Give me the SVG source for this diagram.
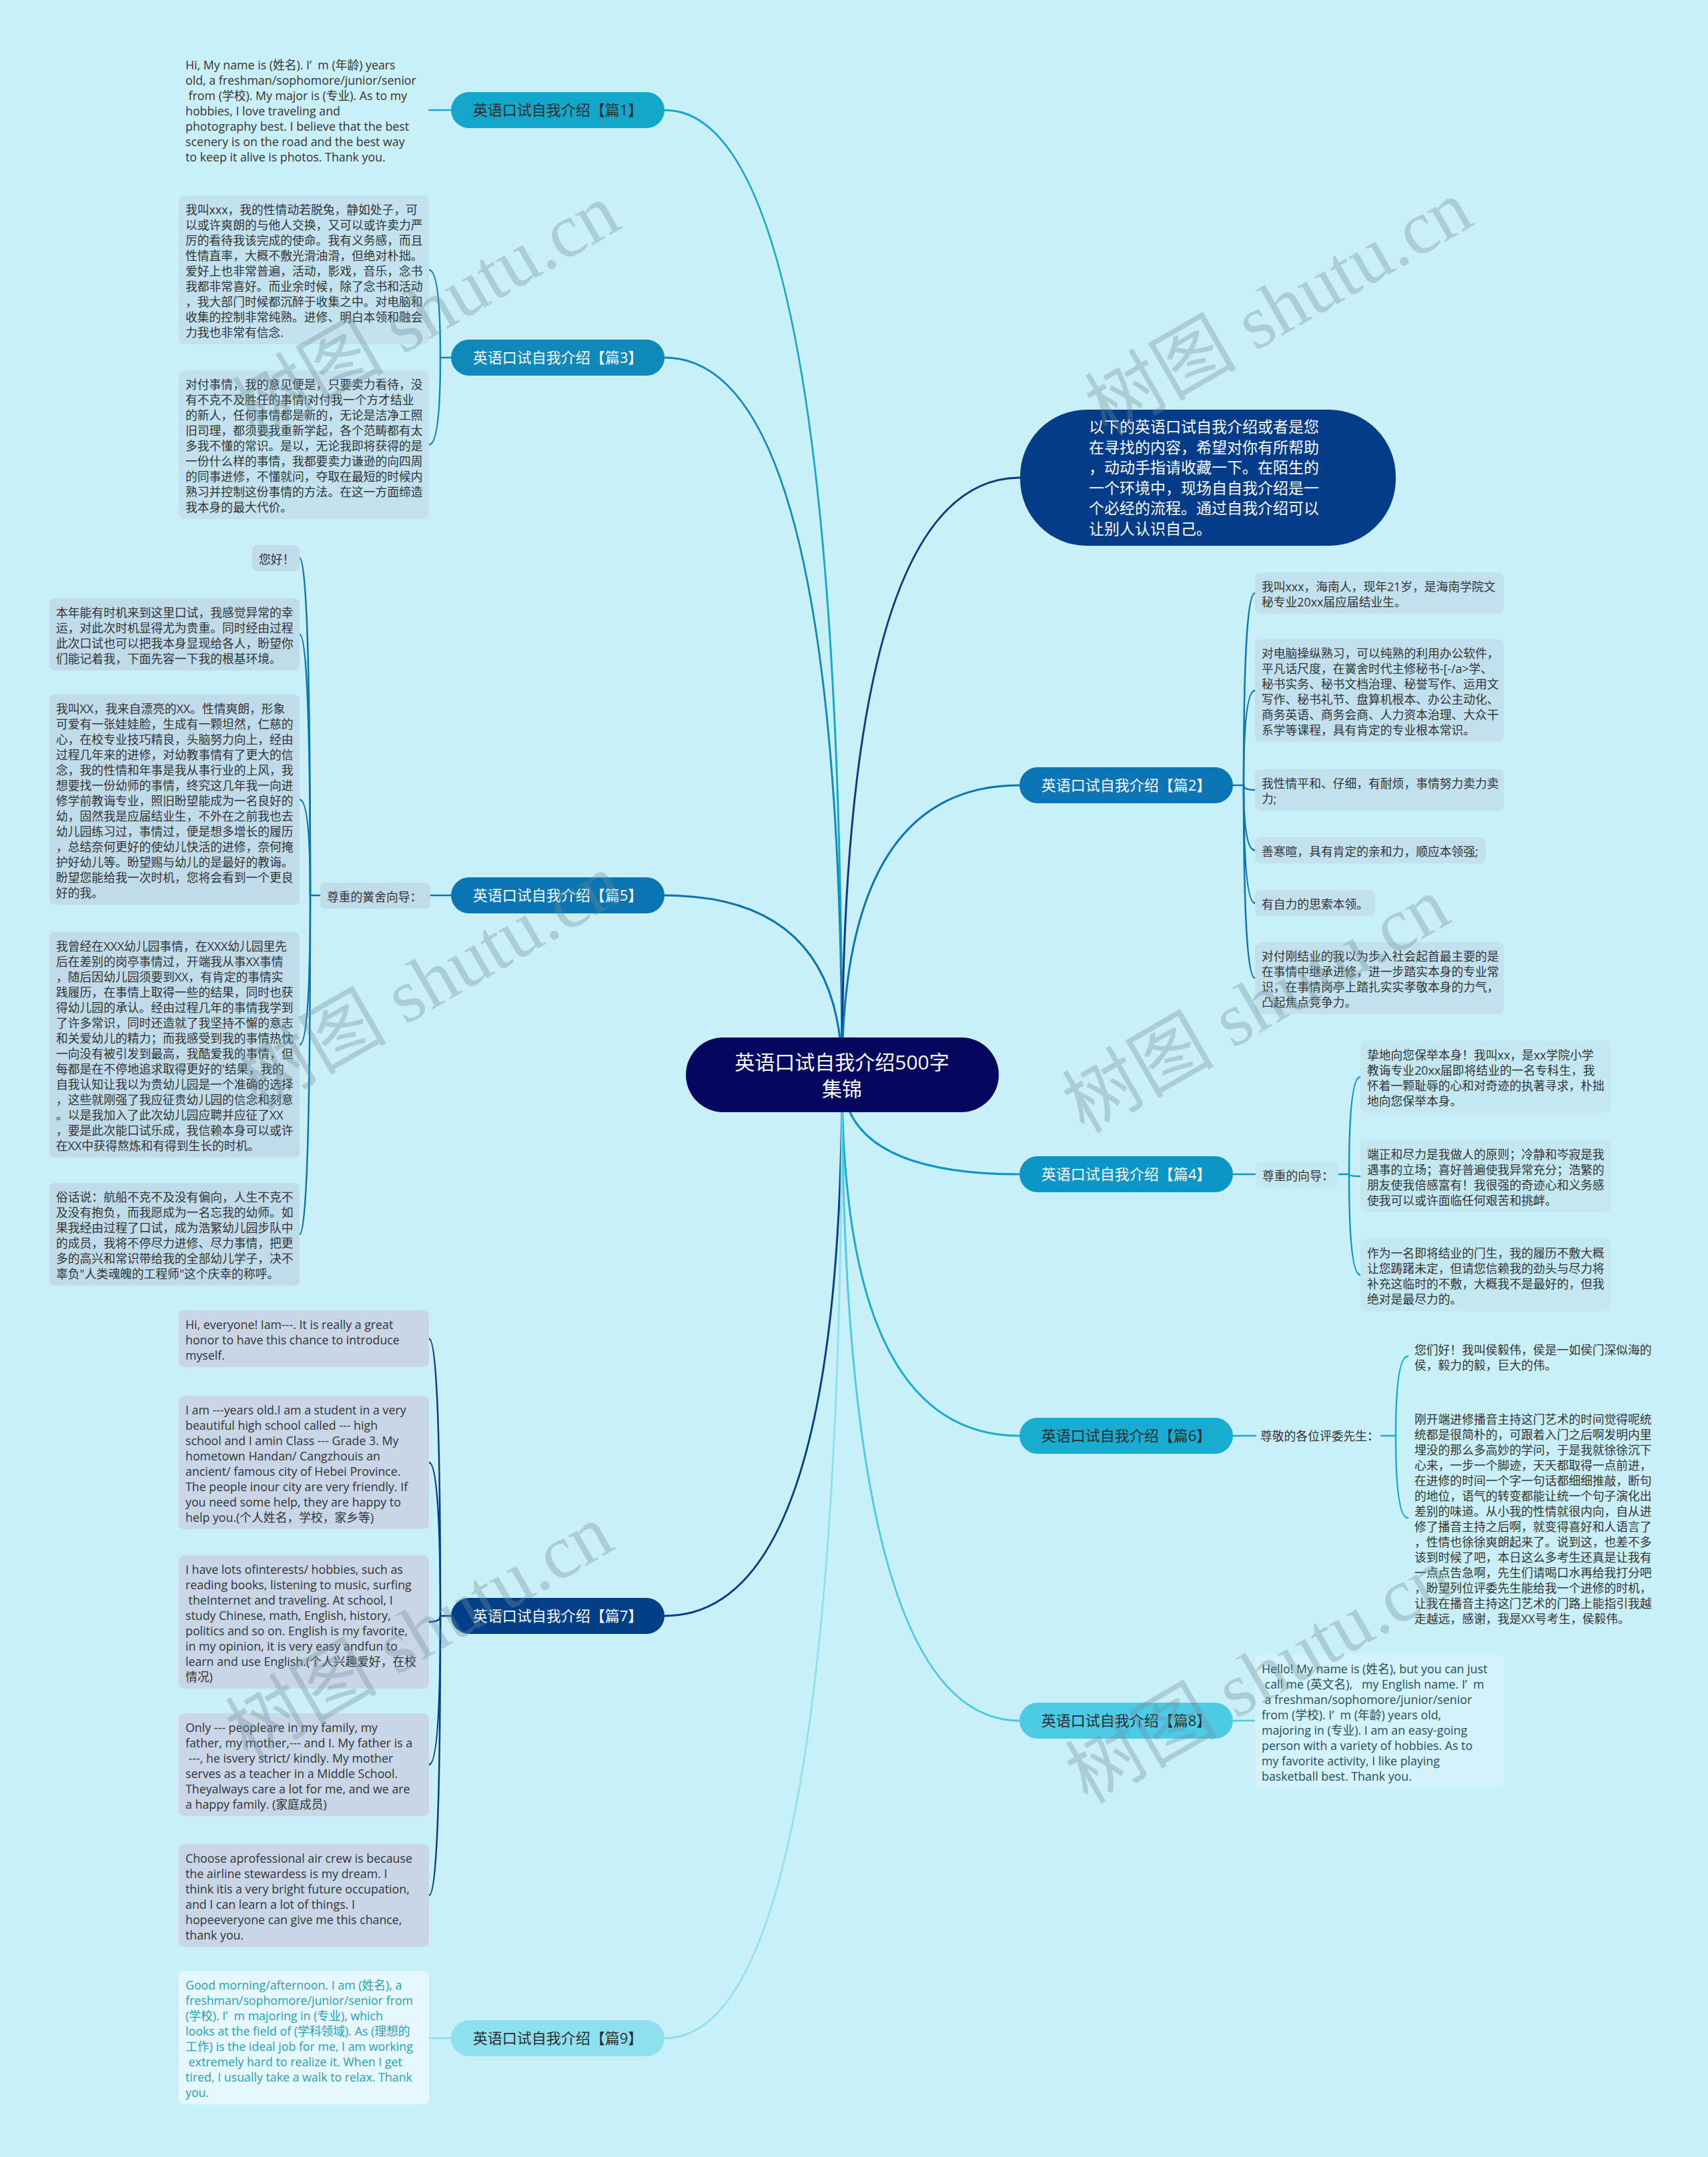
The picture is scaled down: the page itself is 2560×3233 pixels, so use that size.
<svg xmlns="http://www.w3.org/2000/svg" width="2560" height="3233" viewBox="0 0 2560 3233">
<style>
.t{font-family:'Open Sans','Noto Sans CJK SC',sans-serif;font-size:17.8px;fill:#333}
.nt{font-family:'Open Sans','Noto Sans CJK SC',sans-serif;font-size:22px;text-anchor:middle}
.w{fill:#fff}
.d{fill:#2b2b2b}
.e{fill:none;stroke-width:3;stroke-linecap:round}
.s{fill:none;stroke-width:2.5;stroke-linecap:round}
.wm{font-family:'Liberation Serif','Noto Sans CJK SC',serif;font-size:114px;fill:#6f8f99;fill-opacity:.35}
</style>
<rect x="0" y="0" width="2560" height="3233" fill="#c9eff8"/>

<g id="connectors">
<path class="e" stroke="#13a8cb" d="M1262,1611 Q1262,165 996,165"/>
<path class="e" stroke="#0f88ba" d="M1262,1611 Q1262,536 996,536"/>
<path class="e" stroke="#0b74b2" d="M1262,1611 Q1262,1342 996,1342"/>
<path class="e" stroke="#023f88" d="M1262,1611 Q1262,2422 996,2422"/>
<path class="e" stroke="#8fe0ef" d="M1262,1611 Q1262,3055 996,3055"/>
<path class="e" stroke="#083c82" d="M1262,1611 Q1262,716 1529,716"/>
<path class="e" stroke="#0b75b5" d="M1262,1611 Q1262,1177 1528,1177"/>
<path class="e" stroke="#0a96c6" d="M1262,1611 Q1262,1760 1528,1760"/>
<path class="e" stroke="#18acd0" d="M1262,1611 Q1262,2152 1528,2152"/>
<path class="e" stroke="#4dcae6" d="M1262,1611 Q1262,2579 1528,2579"/>

<path class="s" stroke="#13a8cb" d="M676,165 H643"/>
<g stroke="#0f88ba">
<path class="s" d="M676,536 H660"/>
<path class="s" d="M660,536 Q660,404.5 643,404.5"/>
<path class="s" d="M660,536 Q660,666.5 643,666.5"/>
</g>
<g stroke="#0b74b2">
<path class="s" d="M676,1342 H645"/>
<path class="s" d="M480,1342 H465"/>
<path class="s" d="M465,1342 Q465,836.5 449,836.5"/>
<path class="s" d="M465,1342 Q465,951 449,951"/>
<path class="s" d="M465,1342 Q465,1198.5 449,1198.5"/>
<path class="s" d="M465,1342 Q465,1566 449,1566"/>
<path class="s" d="M465,1342 Q465,1850 449,1850"/>
</g>
<g stroke="#023f88">
<path class="s" d="M676,2422 H660"/>
<path class="s" d="M660,2422 Q660,2006.5 643,2006.5"/>
<path class="s" d="M660,2422 Q660,2192 643,2192"/>
<path class="s" d="M660,2422 Q660,2431 643,2431"/>
<path class="s" d="M660,2422 Q660,2645 643,2645"/>
<path class="s" d="M660,2422 Q660,2841 643,2841"/>
</g>
<path class="s" stroke="#8fe0ef" d="M676,3055 H643"/>
<g stroke="#0b75b5">
<path class="s" d="M1848,1177 H1864"/>
<path class="s" d="M1864,1177 Q1864,889 1881,889"/>
<path class="s" d="M1864,1177 Q1864,1035 1881,1035"/>
<path class="s" d="M1864,1177 Q1864,1184 1881,1184"/>
<path class="s" d="M1864,1177 Q1864,1274.5 1881,1274.5"/>
<path class="s" d="M1864,1177 Q1864,1353.5 1881,1353.5"/>
<path class="s" d="M1864,1177 Q1864,1466 1881,1466"/>
</g>
<g stroke="#0a96c6">
<path class="s" d="M1848,1760 H1882"/>
<path class="s" d="M2006,1760 H2022"/>
<path class="s" d="M2022,1760 Q2022,1614 2039,1614"/>
<path class="s" d="M2022,1760 Q2022,1763 2039,1763"/>
<path class="s" d="M2022,1760 Q2022,1911 2039,1911"/>
</g>
<g stroke="#18acd0">
<path class="s" d="M1848,2152 H1882"/>
<path class="s" d="M2070,2152 H2092"/>
<path class="s" d="M2092,2152 Q2092,2033 2110,2033"/>
<path class="s" d="M2092,2152 Q2092,2275 2110,2275"/>
</g>
<path class="s" stroke="#4dcae6" d="M1848,2579 H1881"/>
</g>

<g id="center">
<rect x="1028" y="1555" width="469" height="112" rx="56" fill="#05065e"/>
<text class="nt w" style="font-size:30px" x="1262" y="1603">英语口试自我介绍500字</text>
<text class="nt w" style="font-size:30px" x="1262" y="1643">集锦</text>
</g>

<g id="intro">
<rect x="1529" y="614" width="563" height="204" rx="100" fill="#033c88"/>
<text class="w" style="font-family:'Open Sans','Noto Sans CJK SC',sans-serif;font-size:23px">
<tspan x="1632" y="648">以下的英语口试自我介绍或者是您</tspan>
<tspan x="1632" y="679">在寻找的内容，希望对你有所帮助</tspan>
<tspan x="1632" y="709">，动动手指请收藏一下。在陌生的</tspan>
<tspan x="1632" y="740">一个环境中，现场自自我介绍是一</tspan>
<tspan x="1632" y="770">个必经的流程。通过自我介绍可以</tspan>
<tspan x="1632" y="801">让别人认识自己。</tspan>
</text>
</g>

<g id="n1">
<rect x="676" y="138" width="320" height="54" rx="27" fill="#13a8cb"/>
<text class="nt d" x="836" y="173">英语口试自我介绍【篇1】</text>
</g>
<g id="n1-c1">
<text class="t">
<tspan x="278" y="104">Hi, My name is (姓名). I’&#160;&#160;m (年龄) years</tspan>
<tspan x="278" y="127">old, a freshman/sophomore/junior/senior</tspan>
<tspan x="278" y="150">&#160;from (学校). My major is (专业). As to my</tspan>
<tspan x="278" y="173">hobbies, I love traveling and</tspan>
<tspan x="278" y="196">photography best. I believe that the best</tspan>
<tspan x="278" y="219">scenery is on the road and the best way</tspan>
<tspan x="278" y="242">to keep it alive is photos. Thank you.</tspan>
</text>
</g>

<g id="n3">
<rect x="676" y="509" width="320" height="54" rx="27" fill="#0f88ba"/>
<text class="nt w" x="836" y="544">英语口试自我介绍【篇3】</text>
</g>
<g id="n3-c1">
<rect x="268" y="293" width="375" height="223" rx="8" fill="#c1e2ee"/>
<text class="t">
<tspan x="278" y="321">我叫xxx，我的性情动若脱兔，静如处子，可</tspan>
<tspan x="278" y="344">以或许爽朗的与他人交换，又可以或许卖力严</tspan>
<tspan x="278" y="367">厉的看待我该完成的使命。我有义务感，而且</tspan>
<tspan x="278" y="390">性情直率，大概不敷光滑油滑，但绝对朴拙。</tspan>
<tspan x="278" y="413">爱好上也非常普遍，活动，影戏，音乐，念书</tspan>
<tspan x="278" y="436">我都非常喜好。而业余时候，除了念书和活动</tspan>
<tspan x="278" y="459">，我大部门时候都沉醉于收集之中。对电脑和</tspan>
<tspan x="278" y="482">收集的控制非常纯熟。进修、明白本领和融会</tspan>
<tspan x="278" y="505">力我也非常有信念.</tspan>
</text>
</g>
<g id="n3-c2">
<rect x="268" y="555" width="375" height="223" rx="8" fill="#c1e2ee"/>
<text class="t">
<tspan x="278" y="583">对付事情，我的意见便是，只要卖力看待，没</tspan>
<tspan x="278" y="606">有不克不及胜任的事情!对付我一个方才结业</tspan>
<tspan x="278" y="629">的新人，任何事情都是新的，无论是洁净工照</tspan>
<tspan x="278" y="652">旧司理，都须要我重新学起，各个范畴都有太</tspan>
<tspan x="278" y="675">多我不懂的常识。是以，无论我即将获得的是</tspan>
<tspan x="278" y="698">一份什么样的事情，我都要卖力谦逊的向四周</tspan>
<tspan x="278" y="721">的同事进修，不懂就问，夺取在最短的时候内</tspan>
<tspan x="278" y="744">熟习并控制这份事情的方法。在这一方面缔造</tspan>
<tspan x="278" y="767">我本身的最大代价。</tspan>
</text>
</g>

<g id="n5">
<rect x="676" y="1315" width="320" height="54" rx="27" fill="#0b74b2"/>
<text class="nt w" x="836" y="1350">英语口试自我介绍【篇5】</text>
</g>
<g id="n5-s">
<rect x="480" y="1323" width="165" height="39" rx="8" fill="#c0dbe9"/>
<text class="t" x="490" y="1351">尊重的黉舍向导：</text>
</g>
<g id="n5-c1">
<rect x="378" y="817" width="71" height="39" rx="8" fill="#c0dbe9"/>
<text class="t" x="388" y="845">您好！</text>
</g>
<g id="n5-c2">
<rect x="74" y="897" width="375" height="108" rx="8" fill="#c0dbe9"/>
<text class="t">
<tspan x="84" y="925">本年能有时机来到这里口试，我感觉异常的幸</tspan>
<tspan x="84" y="948">运，对此次时机显得尤为贵重。同时经由过程</tspan>
<tspan x="84" y="971">此次口试也可以把我本身显现给各人，盼望你</tspan>
<tspan x="84" y="994">们能记着我，下面先容一下我的根基环境。</tspan>
</text>
</g>
<g id="n5-c3">
<rect x="74" y="1041" width="375" height="315" rx="8" fill="#c0dbe9"/>
<text class="t">
<tspan x="84" y="1069">我叫XX，我来自漂亮的XX。性情爽朗，形象</tspan>
<tspan x="84" y="1092">可爱有一张娃娃脸，生成有一颗坦然，仁慈的</tspan>
<tspan x="84" y="1115">心，在校专业技巧精良，头脑努力向上，经由</tspan>
<tspan x="84" y="1138">过程几年来的进修，对幼教事情有了更大的信</tspan>
<tspan x="84" y="1161">念，我的性情和年事是我从事行业的上风，我</tspan>
<tspan x="84" y="1184">想要找一份幼师的事情，终究这几年我一向进</tspan>
<tspan x="84" y="1207">修学前教诲专业，照旧盼望能成为一名良好的</tspan>
<tspan x="84" y="1230">幼，固然我是应届结业生，不外在之前我也去</tspan>
<tspan x="84" y="1253">幼儿园练习过，事情过，便是想多增长的履历</tspan>
<tspan x="84" y="1276">，总结奈何更好的使幼儿快活的进修，奈何掩</tspan>
<tspan x="84" y="1299">护好幼儿等。盼望赐与幼儿的是最好的教诲。</tspan>
<tspan x="84" y="1322">盼望您能给我一次时机，您将会看到一个更良</tspan>
<tspan x="84" y="1345">好的我。</tspan>
</text>
</g>
<g id="n5-c4">
<rect x="74" y="1397" width="375" height="338" rx="8" fill="#c0dbe9"/>
<text class="t">
<tspan x="84" y="1425">我曾经在XXX幼儿园事情，在XXX幼儿园里先</tspan>
<tspan x="84" y="1448">后在差别的岗亭事情过，开端我从事XX事情</tspan>
<tspan x="84" y="1471">，随后因幼儿园须要到XX，有肯定的事情实</tspan>
<tspan x="84" y="1494">践履历，在事情上取得一些的结果，同时也获</tspan>
<tspan x="84" y="1517">得幼儿园的承认。经由过程几年的事情我学到</tspan>
<tspan x="84" y="1540">了许多常识，同时还造就了我坚持不懈的意志</tspan>
<tspan x="84" y="1563">和关爱幼儿的精力；而我感受到我的事情热忱</tspan>
<tspan x="84" y="1586">一向没有被引发到最高，我酷爱我的事情，但</tspan>
<tspan x="84" y="1609">每都是在不停地追求取得更好的'结果，我的</tspan>
<tspan x="84" y="1632">自我认知让我以为贵幼儿园是一个准确的选择</tspan>
<tspan x="84" y="1655">，这些就刚强了我应征贵幼儿园的信念和刻意</tspan>
<tspan x="84" y="1678">。以是我加入了此次幼儿园应聘并应征了XX</tspan>
<tspan x="84" y="1701">，要是此次能口试乐成，我信赖本身可以或许</tspan>
<tspan x="84" y="1724">在XX中获得熬炼和有得到生长的时机。</tspan>
</text>
</g>
<g id="n5-c5">
<rect x="74" y="1773" width="375" height="154" rx="8" fill="#c0dbe9"/>
<text class="t">
<tspan x="84" y="1801">俗话说：航船不克不及没有偏向，人生不克不</tspan>
<tspan x="84" y="1824">及没有抱负，而我愿成为一名忘我的幼师。如</tspan>
<tspan x="84" y="1847">果我经由过程了口试，成为浩繁幼儿园步队中</tspan>
<tspan x="84" y="1870">的成员，我将不停尽力进修、尽力事情，把更</tspan>
<tspan x="84" y="1893">多的高兴和常识带给我的全部幼儿学子，决不</tspan>
<tspan x="84" y="1916">辜负"人类魂魄的工程师"这个庆幸的称呼。</tspan>
</text>
</g>

<g id="n7">
<rect x="676" y="2395" width="320" height="54" rx="27" fill="#023f88"/>
<text class="nt w" x="836" y="2430">英语口试自我介绍【篇7】</text>
</g>
<g id="n7-c1">
<rect x="268" y="1964" width="375" height="85" rx="8" fill="#c8d6e7"/>
<text class="t">
<tspan x="278" y="1992">Hi, everyone! Iam---. It is really a great</tspan>
<tspan x="278" y="2015">honor to have this chance to introduce</tspan>
<tspan x="278" y="2038">myself.</tspan>
</text>
</g>
<g id="n7-c2">
<rect x="268" y="2092" width="375" height="200" rx="8" fill="#c8d6e7"/>
<text class="t">
<tspan x="278" y="2120">I am ---years old.I am a student in a very</tspan>
<tspan x="278" y="2143">beautiful high school called --- high</tspan>
<tspan x="278" y="2166">school and I amin Class --- Grade 3. My</tspan>
<tspan x="278" y="2189">hometown Handan/ Cangzhouis an</tspan>
<tspan x="278" y="2212">ancient/ famous city of Hebei Province.</tspan>
<tspan x="278" y="2235">The people inour city are very friendly. If</tspan>
<tspan x="278" y="2258">you need some help, they are happy to</tspan>
<tspan x="278" y="2281">help you.(个人姓名，学校，家乡等)</tspan>
</text>
</g>
<g id="n7-c3">
<rect x="268" y="2331" width="375" height="200" rx="8" fill="#c8d6e7"/>
<text class="t">
<tspan x="278" y="2359">I have lots ofinterests/ hobbies, such as</tspan>
<tspan x="278" y="2382">reading books, listening to music, surfing</tspan>
<tspan x="278" y="2405">&#160;theInternet and traveling. At school, I</tspan>
<tspan x="278" y="2428">study Chinese, math, English, history,</tspan>
<tspan x="278" y="2451">politics and so on. English is my favorite,</tspan>
<tspan x="278" y="2474">in my opinion, it is very easy andfun to</tspan>
<tspan x="278" y="2497">learn and use English.(个人兴趣爱好，在校</tspan>
<tspan x="278" y="2520">情况)</tspan>
</text>
</g>
<g id="n7-c4">
<rect x="268" y="2568" width="375" height="154" rx="8" fill="#c8d6e7"/>
<text class="t">
<tspan x="278" y="2596">Only --- peopleare in my family, my</tspan>
<tspan x="278" y="2619">father, my mother,--- and I. My father is a</tspan>
<tspan x="278" y="2642">&#160;---, he isvery strict/ kindly. My mother</tspan>
<tspan x="278" y="2665">serves as a teacher in a Middle School.</tspan>
<tspan x="278" y="2688">Theyalways care a lot for me, and we are</tspan>
<tspan x="278" y="2711">a happy family. (家庭成员)</tspan>
</text>
</g>
<g id="n7-c5">
<rect x="268" y="2764" width="375" height="154" rx="8" fill="#c8d6e7"/>
<text class="t">
<tspan x="278" y="2792">Choose aprofessional air crew is because</tspan>
<tspan x="278" y="2815">the airline stewardess is my dream. I</tspan>
<tspan x="278" y="2838">think itis a very bright future occupation,</tspan>
<tspan x="278" y="2861">and I can learn a lot of things. I</tspan>
<tspan x="278" y="2884">hopeeveryone can give me this chance,</tspan>
<tspan x="278" y="2907">thank you.</tspan>
</text>
</g>

<g id="n9">
<rect x="676" y="3028" width="320" height="54" rx="27" fill="#8fe0ef"/>
<text class="nt d" x="836" y="3063">英语口试自我介绍【篇9】</text>
</g>
<g id="n9-c1">
<rect x="268" y="2954" width="375" height="200" rx="8" fill="#e6f8fc"/>
<text class="t" style="fill:#27a1b6">
<tspan x="278" y="2982">Good morning/afternoon. I am (姓名), a</tspan>
<tspan x="278" y="3005">freshman/sophomore/junior/senior from</tspan>
<tspan x="278" y="3028">(学校). I’&#160;&#160;m majoring in (专业), which</tspan>
<tspan x="278" y="3051">looks at the field of (学科领域). As (理想的</tspan>
<tspan x="278" y="3074">工作) is the ideal job for me, I am working</tspan>
<tspan x="278" y="3097">&#160;extremely hard to realize it. When I get</tspan>
<tspan x="278" y="3120">tired, I usually take a walk to relax. Thank</tspan>
<tspan x="278" y="3143">you.</tspan>
</text>
</g>

<g id="n2">
<rect x="1528" y="1150" width="320" height="54" rx="27" fill="#0b75b5"/>
<text class="nt w" x="1688" y="1185">英语口试自我介绍【篇2】</text>
</g>
<g id="n2-c1">
<rect x="1881" y="858" width="373" height="62" rx="8" fill="#c1e1ee"/>
<text class="t">
<tspan x="1891" y="886">我叫xxx，海南人，现年21岁，是海南学院文</tspan>
<tspan x="1891" y="909">秘专业20xx届应届结业生。</tspan>
</text>
</g>
<g id="n2-c2">
<rect x="1881" y="958" width="373" height="154" rx="8" fill="#c1e1ee"/>
<text class="t">
<tspan x="1891" y="986">对电脑操纵熟习，可以纯熟的利用办公软件，</tspan>
<tspan x="1891" y="1009">平凡话尺度，在黉舍时代主修秘书-[-/a&gt;学、</tspan>
<tspan x="1891" y="1032">秘书实务、秘书文档治理、秘誉写作、运用文</tspan>
<tspan x="1891" y="1055">写作、秘书礼节、盘算机根本、办公主动化、</tspan>
<tspan x="1891" y="1078">商务英语、商务会商、人力资本治理、大众干</tspan>
<tspan x="1891" y="1101">系学等课程，具有肯定的专业根本常识。</tspan>
</text>
</g>
<g id="n2-c3">
<rect x="1881" y="1153" width="373" height="62" rx="8" fill="#c1e1ee"/>
<text class="t">
<tspan x="1891" y="1181">我性情平和、仔细，有耐烦，事情努力卖力卖</tspan>
<tspan x="1891" y="1204">力;</tspan>
</text>
</g>
<g id="n2-c4">
<rect x="1881" y="1255" width="346" height="39" rx="8" fill="#c1e1ee"/>
<text class="t" x="1891" y="1283">善寒暄，具有肯定的亲和力，顺应本领强;</text>
</g>
<g id="n2-c5">
<rect x="1881" y="1334" width="180" height="39" rx="8" fill="#c1e1ee"/>
<text class="t" x="1891" y="1362">有自力的思索本领。</text>
</g>
<g id="n2-c6">
<rect x="1881" y="1412" width="373" height="108" rx="8" fill="#c1e1ee"/>
<text class="t">
<tspan x="1891" y="1440">对付刚结业的我以为步入社会起首最主要的是</tspan>
<tspan x="1891" y="1463">在事情中继承进修，进一步踏实本身的专业常</tspan>
<tspan x="1891" y="1486">识，在事情岗亭上踏扎实实孝敬本身的力气，</tspan>
<tspan x="1891" y="1509">凸起焦点竞争力。</tspan>
</text>
</g>

<g id="n4">
<rect x="1528" y="1733" width="320" height="54" rx="27" fill="#0a96c6"/>
<text class="nt w" x="1688" y="1768">英语口试自我介绍【篇4】</text>
</g>
<g id="n4-s">
<rect x="1882" y="1741" width="124" height="39" rx="8" fill="#c4e8f2"/>
<text class="t" x="1892" y="1769">尊重的向导：</text>
</g>
<g id="n4-c1">
<rect x="2039" y="1560" width="376" height="108" rx="8" fill="#c4e8f2"/>
<text class="t">
<tspan x="2049" y="1588">挚地向您保举本身！我叫xx，是xx学院小学</tspan>
<tspan x="2049" y="1611">教诲专业20xx届即将结业的一名专科生，我</tspan>
<tspan x="2049" y="1634">怀着一颗耻辱的心和对奇迹的执著寻求，朴拙</tspan>
<tspan x="2049" y="1657">地向您保举本身。</tspan>
</text>
</g>
<g id="n4-c2">
<rect x="2039" y="1709" width="376" height="108" rx="8" fill="#c4e8f2"/>
<text class="t">
<tspan x="2049" y="1737">端正和尽力是我做人的原则；冷静和岑寂是我</tspan>
<tspan x="2049" y="1760">遇事的立场；喜好普遍使我异常充分；浩繁的</tspan>
<tspan x="2049" y="1783">朋友使我倍感富有！我很强的奇迹心和义务感</tspan>
<tspan x="2049" y="1806">使我可以或许面临任何艰苦和挑衅。</tspan>
</text>
</g>
<g id="n4-c3">
<rect x="2039" y="1857" width="376" height="108" rx="8" fill="#c4e8f2"/>
<text class="t">
<tspan x="2049" y="1885">作为一名即将结业的门生，我的履历不敷大概</tspan>
<tspan x="2049" y="1908">让您踌躇未定，但请您信赖我的劲头与尽力将</tspan>
<tspan x="2049" y="1931">补充这临时的不敷，大概我不是最好的，但我</tspan>
<tspan x="2049" y="1954">绝对是最尽力的。</tspan>
</text>
</g>

<g id="n6">
<rect x="1528" y="2125" width="320" height="54" rx="27" fill="#18acd0"/>
<text class="nt d" x="1688" y="2160">英语口试自我介绍【篇6】</text>
</g>
<g id="n6-s">
<text class="t" x="1889" y="2159">尊敬的各位评委先生：</text>
</g>
<g id="n6-c1">
<text class="t">
<tspan x="2120" y="2030">您们好！我叫侯毅伟，侯是一如侯门深似海的</tspan>
<tspan x="2120" y="2053">侯，毅力的毅，巨大的伟。</tspan>
</text>
</g>
<g id="n6-c2">
<text class="t">
<tspan x="2120" y="2134">刚开端进修播音主持这门艺术的时间觉得呢统</tspan>
<tspan x="2120" y="2157">统都是很简朴的，可跟着入门之后啊发明内里</tspan>
<tspan x="2120" y="2180">埋没的那么多高妙的学问，于是我就徐徐沉下</tspan>
<tspan x="2120" y="2203">心来，一步一个脚迹，天天都取得一点前进，</tspan>
<tspan x="2120" y="2226">在进修的时间一个字一句话都细细推敲，断句</tspan>
<tspan x="2120" y="2249">的地位，语气的转变都能让统一个句子演化出</tspan>
<tspan x="2120" y="2272">差别的味道。从小我的性情就很内向，自从进</tspan>
<tspan x="2120" y="2295">修了播音主持之后啊，就变得喜好和人语言了</tspan>
<tspan x="2120" y="2318">，性情也徐徐爽朗起来了。说到这，也差不多</tspan>
<tspan x="2120" y="2341">该到时候了吧，本日这么多考生还真是让我有</tspan>
<tspan x="2120" y="2364">一点点告急啊，先生们请喝口水再给我打分吧</tspan>
<tspan x="2120" y="2387">，盼望列位评委先生能给我一个进修的时机，</tspan>
<tspan x="2120" y="2410">让我在播音主持这门艺术的门路上能指引我越</tspan>
<tspan x="2120" y="2433">走越远，感谢，我是XX号考生，侯毅伟。</tspan>
</text>
</g>

<g id="n8">
<rect x="1528" y="2552" width="320" height="54" rx="27" fill="#4dcae6"/>
<text class="nt d" x="1688" y="2587">英语口试自我介绍【篇8】</text>
</g>
<g id="n8-c1">
<rect x="1881" y="2480" width="373" height="200" rx="8" fill="#d4f2f9"/>
<text class="t" style="fill:#234f5c">
<tspan x="1891" y="2508">Hello! My name is (姓名), but you can just</tspan>
<tspan x="1891" y="2531">&#160;call me (英文名),&#160;&#160; my English name. I’&#160;&#160;m</tspan>
<tspan x="1891" y="2554">&#160;a freshman/sophomore/junior/senior</tspan>
<tspan x="1891" y="2577">from (学校). I’&#160;&#160;m (年龄) years old,</tspan>
<tspan x="1891" y="2600">majoring in (专业). I am an easy-going</tspan>
<tspan x="1891" y="2623">person with a variety of hobbies. As to</tspan>
<tspan x="1891" y="2646">my favorite activity, I like playing</tspan>
<tspan x="1891" y="2669">basketball best. Thank you.</tspan>
</text>
</g>

<g id="watermark">
<text class="wm" transform="translate(381,660) rotate(-30)">树图 shutu.cn</text>
<text class="wm" transform="translate(1659,655) rotate(-30)">树图 shutu.cn</text>
<text class="wm" transform="translate(385,1665) rotate(-30)">树图 shutu.cn</text>
<text class="wm" transform="translate(1625,1700) rotate(-30)">树图 shutu.cn</text>
<text class="wm" transform="translate(371,2640) rotate(-30)">树图 shutu.cn</text>
<text class="wm" transform="translate(1630,2705) rotate(-30)">树图 shutu.cn</text>
</g>
</svg>
